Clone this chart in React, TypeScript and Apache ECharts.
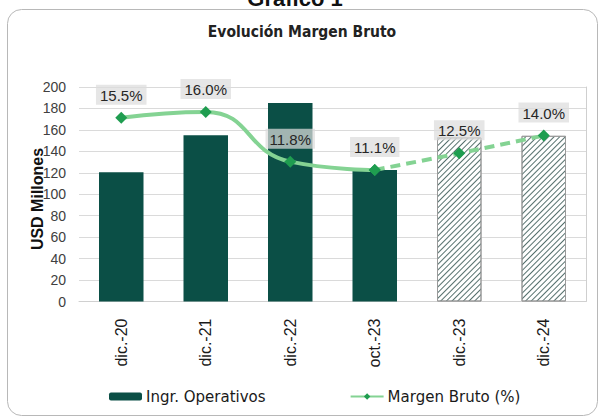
import React, { useEffect, useRef } from 'react';
import * as echarts from 'echarts';

const categories = ['dic.-20', 'dic.-21', 'dic.-22', 'oct.-23', 'dic.-23', 'dic.-24'];
const ingresos = [120.5, 155, 185, 122.5, 153, 154.5];
const margen = [15.5, 16.0, 11.8, 11.1, 12.5, 14.0];
const lastActualIndex = 3; // oct.-23: after this, values are projections
const yMin = 0;
const yMax = 200;
const yInterval = 20;

const DARK = '#0b4f46';
const LINE = '#84d393';
const MARK = '#1f9d50';

export default function App() {
  const ref = useRef<HTMLDivElement>(null);
  useEffect(() => {
    document.body.style.margin = '0';
    const chart = echarts.init(ref.current!, null, { renderer: 'svg' });
    const hatch = {
      symbol: 'rect',
      symbolSize: 1,
      color: '#55706d',
      backgroundColor: '#ffffff',
      dashArrayX: [1, 0],
      dashArrayY: [1, 2.2],
      rotation: -Math.PI / 4,
    };
    const barData = ingresos.map((v, i) =>
      i > lastActualIndex
        ? { value: v, itemStyle: { color: '#ffffff', borderColor: '#9a9a9a', borderWidth: 1, decal: hatch } }
        : { value: v }
    );
    const labelStyle = {
      show: true,
      position: 'top',
      distance: 7,
      fontFamily: 'Liberation Sans, Arial, sans-serif',
      fontSize: 15,
      color: '#262626',
      backgroundColor: 'rgba(220,220,220,0.72)',
      padding: [3, 4, 2, 4],
      formatter: (p: any) => Number(p.value).toFixed(1) + '%',
    };
    const solid = margen.map((v, i) => (i <= lastActualIndex ? v : null));
    const dashed = margen.map((v, i) =>
      i < lastActualIndex ? null : i === lastActualIndex ? { value: v, label: { show: false } } : v
    );
    chart.setOption({
      animation: false,
      graphic: [
        {
          type: 'rect',
          shape: { x: 7.5, y: 9.5, width: 590, height: 406, r: 14 },
          style: { fill: 'none', stroke: '#b8b8b8', lineWidth: 1 },
          silent: true,
        },
        {
          type: 'text',
          x: 295,
          y: 9,
          style: {
            text: 'Gráfico 1',
            fontFamily: 'Liberation Sans, Arial, sans-serif',
            fontWeight: 'bold',
            fontSize: 22,
            fill: '#111',
            textAlign: 'center',
            textVerticalAlign: 'bottom',
          },
        },
        {
          type: 'text',
          x: 302,
          y: 32,
          style: {
            text: 'Evolución Margen Bruto',
            fontFamily: 'DejaVu Sans Condensed, DejaVu Sans, sans-serif',
            fontWeight: 'bold',
            fontSize: 15.5,
            fill: '#222',
            textAlign: 'center',
            textVerticalAlign: 'middle',
          },
        },
        {
          type: 'text',
          x: 37,
          y: 199,
          rotation: Math.PI / 2,
          style: {
            text: 'USD Millones',
            fontFamily: 'Liberation Sans, Arial, sans-serif',
            fontWeight: 'bold',
            fontSize: 16,
            fill: '#111',
            textAlign: 'center',
            textVerticalAlign: 'middle',
          },
        },
      ],
      legend: {
        left: 104,
        top: 384,
        itemWidth: 33,
        itemHeight: 8,
        itemGap: 84,
        data: ['Ingr. Operativos', 'Margen Bruto (%)'],
        textStyle: { fontFamily: 'DejaVu Sans, sans-serif', fontSize: 15, color: '#1a1a1a', padding: [0, 0, 0, -1] },
      },
      grid: { left: 79, right: 17, top: 87, bottom: 117.5 },
      xAxis: {
        type: 'category',
        data: categories,
        axisLine: { show: true, lineStyle: { color: '#d0d0d0' } },
        axisTick: { show: false },
        axisLabel: {
          rotate: 90,
          margin: 17,
          fontFamily: 'Liberation Sans Narrow, Arial Narrow, Liberation Sans, sans-serif',
          fontSize: 16,
          color: '#1a1a1a',
        },
      },
      yAxis: [
        {
          type: 'value',
          min: yMin,
          max: yMax,
          interval: yInterval,
          axisLine: { show: false },
          axisTick: { show: false },
          splitLine: { lineStyle: { color: '#dadada' } },
          axisLabel: {
            margin: 13,
            fontFamily: 'Liberation Sans, Arial, sans-serif',
            fontSize: 14,
            color: '#404040',
          },
        },
        {
          type: 'value',
          min: 0,
          max: 18.1,
          axisLine: { show: true, lineStyle: { color: '#cfcfcf' } },
          axisTick: { show: false },
          axisLabel: { show: false },
          splitLine: { show: false },
        },
      ],
      series: [
        {
          name: 'Ingr. Operativos',
          type: 'bar',
          barWidth: 44.5,
          itemStyle: { color: DARK },
          data: barData,
          z: 1,
        },
        {
          name: 'Margen Bruto (%)',
          type: 'line',
          yAxisIndex: 1,
          smooth: 0.5,
          data: solid,
          symbol: 'diamond',
          symbolSize: 12,
          itemStyle: { color: MARK },
          lineStyle: { color: LINE, width: 4 },
          label: labelStyle,
          z: 3,
        },
        {
          name: 'Margen Bruto (%)',
          type: 'line',
          yAxisIndex: 1,
          data: dashed,
          symbol: 'diamond',
          symbolSize: 12,
          itemStyle: { color: MARK },
          lineStyle: { color: LINE, width: 4, type: [10, 6] },
          label: labelStyle,
          z: 3,
        },
      ],
    });
    return () => chart.dispose();
  }, []);
  return <div ref={ref} style={{ width: 603, height: 419 }} />;
}
